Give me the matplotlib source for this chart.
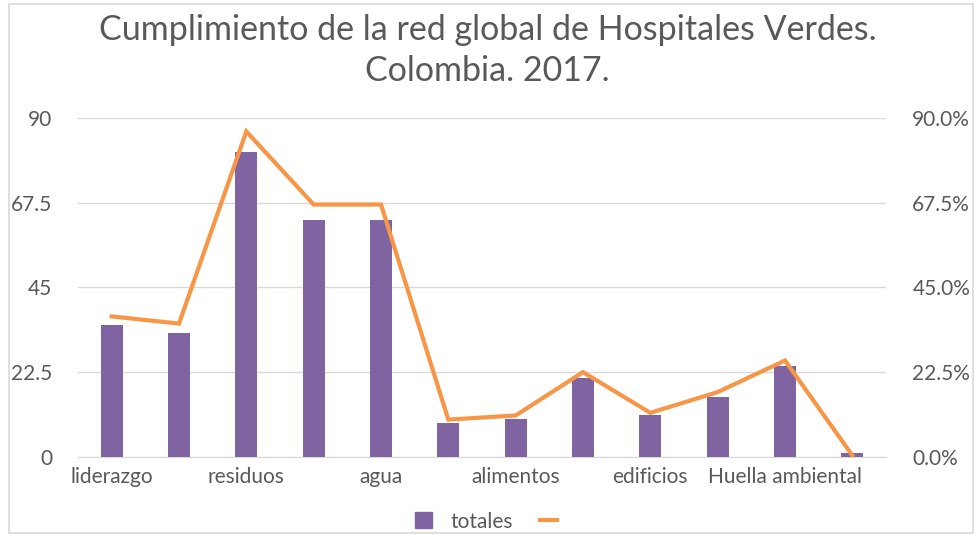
import matplotlib.pyplot as plt
import matplotlib.patches as mpatches
from matplotlib.lines import Line2D
from matplotlib.ticker import FuncFormatter

plt.rcParams['font.family'] = ['Lato', 'DejaVu Sans']

# categories (Excel only shows every second label)
categorias = ['liderazgo', 'sustancias químicas', 'residuos', 'energía', 'agua',
              'transporte', 'alimentos', 'farmacéuticos', 'edificios', 'compras',
              'Huella ambiental', 'otros']
totales = [35, 33, 81, 63, 63, 9, 10, 21, 11, 16, 24, 1]
porcentaje = [37.3, 35.4, 86.4, 67.0, 67.0, 9.9, 11.0, 22.5, 11.7, 17.2, 25.6, 0.4]
ticks_izq = [0, 22.5, 45, 67.5, 90]

purple = '#8064A2'
orange = '#F79646'
grey_txt = '#595959'

fig = plt.figure(figsize=(9.75, 5.35), dpi=100)
ax = fig.add_axes([0.08, 0.146, 0.8287, 0.6336])
ax2 = ax.twinx()

x = range(len(categorias))
ax.bar(x, totales, width=0.33, color=purple, zorder=3)
ax2.plot(x, porcentaje, color=orange, lw=3, solid_joinstyle='miter', zorder=4)

ax.set_xlim(-0.5, len(categorias) - 0.5)
ax.set_ylim(0, 90)
ax2.set_ylim(0, 90)
ax.set_yticks(ticks_izq)
ax.set_yticklabels(['0', '22.5', '45', '67.5', '90'])
ax2.set_yticks(ticks_izq)
ax2.yaxis.set_major_formatter(FuncFormatter(lambda v, p: f'{v:.1f}%'))

ax.set_xticks(list(x))
ax.set_xticklabels([c if i % 2 == 0 else '' for i, c in enumerate(categorias)])

ax.grid(axis='y', color='#D9D9D9', lw=1, zorder=0)
ax.set_axisbelow(True)
for a in (ax, ax2):
    for s in a.spines.values():
        s.set_visible(False)
    a.tick_params(length=0, labelsize=15, colors=grey_txt)
ax.spines['bottom'].set_visible(True)
ax.spines['bottom'].set_color('#D9D9D9')
ax.tick_params(axis='y', pad=18.5)
ax.tick_params(axis='x', pad=7)
ax2.tick_params(axis='y', pad=19)

fig.text(0.5, 0.905, 'Cumplimiento de la red global de Hospitales Verdes.\nColombia. 2017.',
         ha='center', va='center', fontsize=24.5, color=grey_txt, linespacing=1.35)

handles = [mpatches.Patch(color=purple, label='totales'),
           Line2D([0], [0], color=orange, lw=3, label=' ')]
fig.legend(handles=handles, loc='center', bbox_to_anchor=(0.511, 0.025), ncol=2,
           frameon=False, fontsize=15, labelcolor=grey_txt, handlelength=0.8,
           handleheight=0.8, handletextpad=0.9, columnspacing=1.3)

fig.patches.append(mpatches.Rectangle((0.0092, 0.004), 0.989, 0.9885, transform=fig.transFigure,
                                      fill=False, edgecolor='#D9D9D9', lw=1.2))

plt.savefig('out.png', dpi=100)
